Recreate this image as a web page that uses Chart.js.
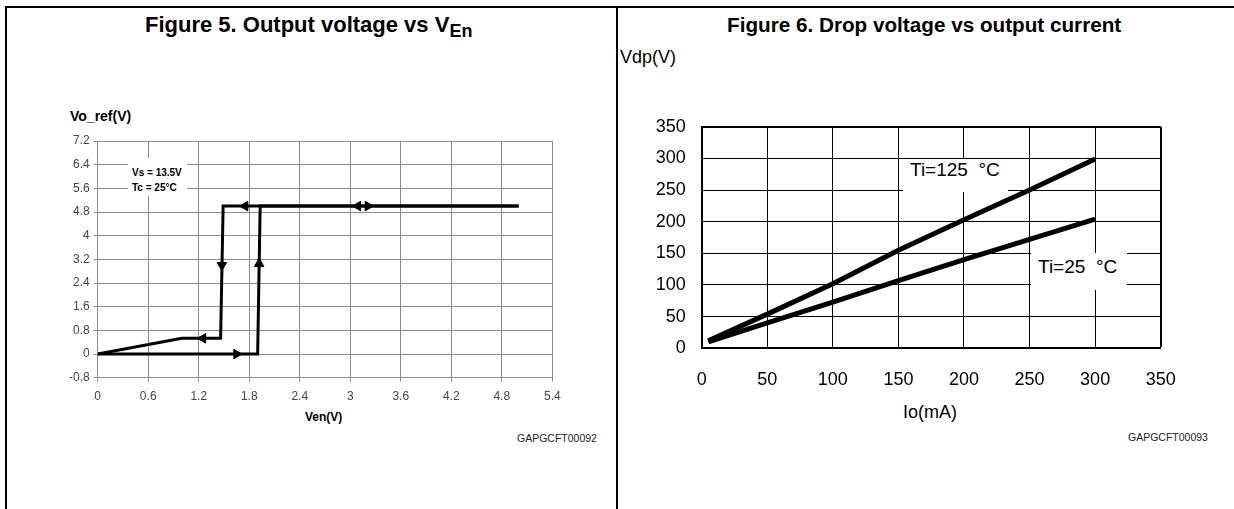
<!DOCTYPE html>
<html>
<head>
<meta charset="utf-8">
<title>Figure 5 / Figure 6</title>
<script src="https://cdn.jsdelivr.net/npm/chart.js@4.4.1/dist/chart.umd.min.js"></script>
<style>
  html, body { margin: 0; padding: 0; background: #fff; }
  body {
    width: 1234px; height: 509px; position: relative; overflow: hidden;
    font-family: "Liberation Sans", Arial, sans-serif; color: #000;
  }
  .abs   { position: absolute; white-space: nowrap; }
  .rule  { position: absolute; background: #000; }
  .title { font-weight: bold; top: 13px; line-height: 24px; }
  .title sub { vertical-align: -5px; line-height: 0; }
  .code  { font-size: 10.5px; color: #222; }
  .note  { background: #fff; z-index: 2; }
  canvas { position: absolute; z-index: 1; }
</style>
</head>
<body>
  <!-- frame -->
  <div class="rule" style="left:5px; top:6px; width:1229px; height:2px"></div>
  <div class="rule" style="left:5px; top:6px; width:2px; height:503px"></div>
  <div class="rule" style="left:616px; top:6px; width:2px; height:503px"></div>

  <canvas id="chart-fig5" width="560" height="300" style="left:40px; top:120px"></canvas>
  <canvas id="chart-fig6" width="600" height="300" style="left:620px; top:110px"></canvas>

  <!-- Figure 5 texts -->
  <div class="abs title" style="left:145px; font-size:22px">Figure 5. Output voltage vs V<sub style="font-size:18px">En</sub></div>
  <div class="abs" style="left:70px; top:108px; font-size:14px; font-weight:bold">Vo_ref(V)</div>
  <div class="abs note" style="left:128px; top:158px; width:59px; height:38px; font-size:10px; font-weight:bold; line-height:15px">
    <div style="padding:7px 0 0 4px">Vs = 13.5V<br>Tc = 25°C</div>
  </div>
  <div class="abs" style="left:305px; top:410px; font-size:12px; font-weight:bold">Ven(V)</div>
  <div class="abs code" style="left:517px; top:432px">GAPGCFT00092</div>

  <!-- Figure 6 texts -->
  <div class="abs title" style="left:727px; font-size:20.7px">Figure 6. Drop voltage vs output current</div>
  <div class="abs" style="left:620px; top:47px; font-size:18px">Vdp(V)</div>
  <div class="abs note" style="left:903px; top:159px; width:105px; height:33px; font-size:19px">
    <div style="padding:0 0 0 7px">Ti=125&nbsp; °C</div>
  </div>
  <div class="abs note" style="left:1031px; top:253px; width:96px; height:37px; font-size:19px">
    <div style="padding:3px 0 0 7px">Ti=25&nbsp; °C</div>
  </div>
  <div class="abs" style="left:903px; top:402px; font-size:18px">Io(mA)</div>
  <div class="abs code" style="left:1128px; top:431px">GAPGCFT00093</div>

<script>
"use strict";

// ── Figure 5: output voltage vs Ven (hysteresis) ──
const venUpX   = [0, 1.90, 1.93, 5.0];
const voUpY    = [0, 0, 5.0, 5.0];
const venDownX = [5.0, 1.49, 1.46, 1.0, 0];
const voDownY  = [5.0, 5.0, 0.53, 0.53, 0];
const arrowX   = [1.75, 3.09, 3.21, 1.475, 1.918, 1.25, 1.65];
const arrowY   = [5.0, 5.0, 5.0, 3.0, 3.05, 0.53, 0];
const arrowRot = [-90, -90, 90, 180, 0, -90, 90];
const venTicks = [0, 0.6, 1.2, 1.8, 2.4, 3, 3.6, 4.2, 4.8, 5.4];
const voTicks  = [-0.8, 0, 0.8, 1.6, 2.4, 3.2, 4, 4.8, 5.6, 6.4, 7.2];

// ── Figure 6: drop voltage vs output current ──
const ioX      = [5, 50, 100, 150, 200, 250, 300];
const vdp125   = [12, 54, 102, 155, 203, 250, 299];
const vdp25    = [10, 40, 73, 107, 140, 172, 204];
const ioTicks  = [0, 50, 100, 150, 200, 250, 300, 350];
const vdpTicks = [0, 50, 100, 150, 200, 250, 300, 350];

const FONT = "'Liberation Sans', Arial, sans-serif";

function toPoints(xs, ys) {
  return xs.map((x, i) => ({ x, y: ys[i] }));
}

function fixedTicks(list) {
  return scale => { scale.ticks = list.map(v => ({ value: v })); };
}

// pin axis sizes so the plot area lands where the figure has it
function fixWidth(w) {
  return s => { s.width = w; s.paddingTop = 0; s.paddingBottom = 0; };
}
function fixHeight(h) {
  return s => { s.height = h; s.paddingLeft = 0; s.paddingRight = 0; };
}

const baseOptions = {
  responsive: false,
  animation: false,
  events: [],
  plugins: { legend: { display: false }, tooltip: { enabled: false } },
};

// ── Figure 5 chart ──
function buildFig5() {
  const grid = "#8c8c8c";
  new Chart(document.getElementById("chart-fig5"), {
    type: "scatter",
    data: {
      datasets: [
        {
          data: toPoints(venUpX, voUpY),
          showLine: true, borderColor: "#000", borderWidth: 3,
          pointRadius: 0, tension: 0,
        },
        {
          data: toPoints(venDownX, voDownY),
          showLine: true, borderColor: "#000", borderWidth: 3,
          pointRadius: 0, tension: 0,
        },
        {
          data: toPoints(arrowX, arrowY),
          showLine: false, pointStyle: "triangle", pointRadius: 5.5,
          pointRotation: arrowRot, backgroundColor: "#000", borderColor: "#000", borderWidth: 1,
        },
      ],
    },
    options: {
      ...baseOptions,
      layout: { padding: { top: 21, right: 47.7, left: 0, bottom: 0 } },
      scales: {
        x: {
          type: "linear", min: 0, max: 5.4,
          afterBuildTicks: fixedTicks(venTicks),
          afterFit: fixHeight(42.3),
          grid: { color: grid, tickColor: grid, tickLength: 4 },
          border: { color: grid, width: 1 },
          ticks: { color: "#444", padding: 8, font: { family: FONT, size: 12 }, callback: v => String(v) },
        },
        y: {
          type: "linear", min: -0.8, max: 7.2,
          afterBuildTicks: fixedTicks(voTicks),
          afterFit: fixWidth(57.7),
          grid: { color: grid, tickColor: grid, tickLength: 4 },
          border: { color: grid, width: 1 },
          ticks: { color: "#444", padding: 4, font: { family: FONT, size: 12 }, callback: v => String(v) },
        },
      },
    },
  });
}

// ── Figure 6 chart ──
function buildFig6() {
  const edge = ctx => (ctx.tick && ctx.tick.value === 350 ? 2 : 1);
  new Chart(document.getElementById("chart-fig6"), {
    type: "scatter",
    data: {
      datasets: [
        {
          data: toPoints(ioX, vdp125),
          showLine: true, borderColor: "#000", borderWidth: 5,
          pointRadius: 0, tension: 0,
        },
        {
          data: toPoints(ioX, vdp25),
          showLine: true, borderColor: "#000", borderWidth: 5,
          pointRadius: 0, tension: 0,
        },
      ],
    },
    options: {
      ...baseOptions,
      layout: { padding: { top: 16.7, right: 59.3, left: 0, bottom: 0 } },
      scales: {
        x: {
          type: "linear", min: 0, max: 350,
          afterBuildTicks: fixedTicks(ioTicks),
          afterFit: fixHeight(61.7),
          grid: { color: "#000", lineWidth: edge, drawTicks: false },
          border: { color: "#000", width: 2 },
          ticks: { color: "#000", padding: 21, font: { family: FONT, size: 18 }, callback: v => String(v) },
        },
        y: {
          type: "linear", min: 0, max: 350,
          afterBuildTicks: fixedTicks(vdpTicks),
          afterFit: fixWidth(81.7),
          grid: { color: "#000", lineWidth: edge, drawTicks: false },
          border: { color: "#000", width: 2 },
          ticks: { color: "#000", padding: 16, font: { family: FONT, size: 18 }, callback: v => String(v) },
        },
      },
    },
  });
}

buildFig5();
buildFig6();
</script>
</body>
</html>
